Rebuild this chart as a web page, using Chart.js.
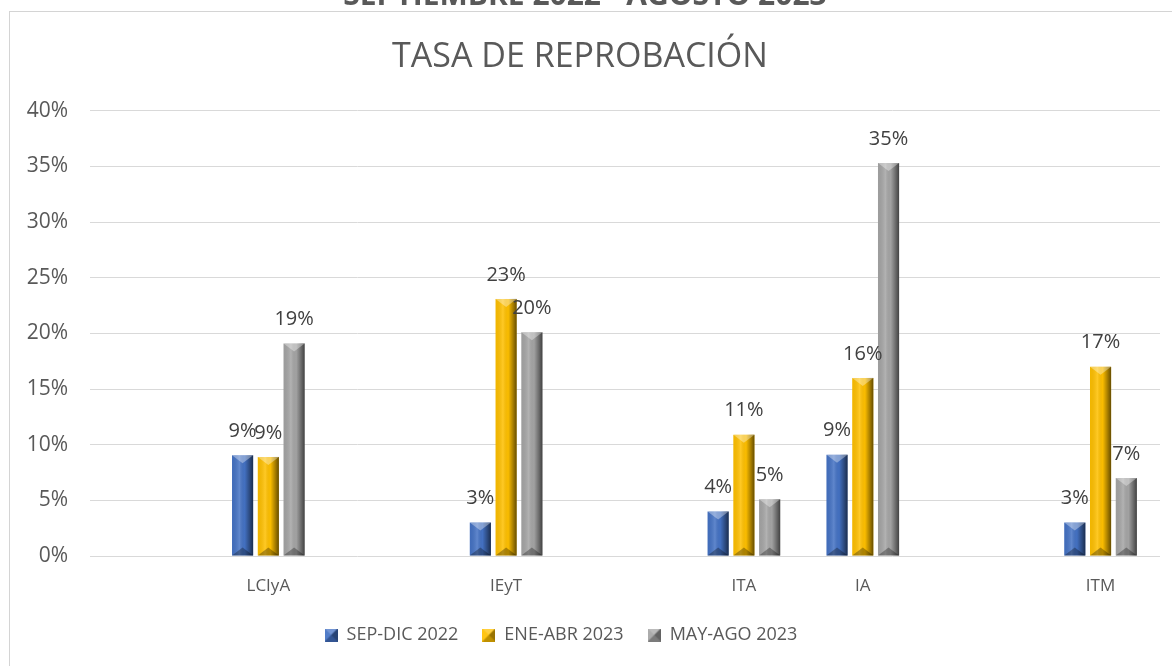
<!DOCTYPE html>
<html>
<head>
<meta charset="utf-8">
<script src="https://cdn.jsdelivr.net/npm/chart.js@4.4.0/dist/chart.umd.min.js"></script>
<style>
  html, body { margin: 0; padding: 0; background: #fff; overflow: hidden; }
  #frame { position: absolute; left: 9px; top: 11px; width: 1200px; height: 700px; border: 1px solid #d4d4d4; }
  #wrap { position: absolute; left: 0; top: 0; width: 1172px; height: 666px; }
</style>
</head>
<body>
<div id="frame"></div>
<div id="wrap"><canvas id="chart"></canvas></div>
<script>
// empty slots keep the uneven spacing of the original
const categories = ['', 'LCIyA', '', 'IEyT', '', 'ITA', 'IA', '', 'ITM'];
const seriesNames = ['SEP-DIC 2022', 'ENE-ABR 2023', 'MAY-AGO 2023'];
const sepDic2022 = [null, 0.0905, null, 0.03, null, 0.04, 0.091, null, 0.03];
const eneAbr2023 = [null, 0.089, null, 0.231, null, 0.109, 0.16, null, 0.17];
const mayAgo2023 = [null, 0.191, null, 0.201, null, 0.051, 0.353, null, 0.07];
const yTicks = [0, 0.05, 0.10, 0.15, 0.20, 0.25, 0.30, 0.35, 0.40];
const colors = ['#4472C4', '#FFC000', '#A5A5A5'];

const FONT = "'Open Sans', 'Liberation Sans', sans-serif";
const GREY = '#595959';

// little bevelled squares for the legend
const makeMarker = color => {
  const c = document.createElement('canvas');
  c.width = 13; c.height = 13;
  const g = c.getContext('2d');
  g.fillStyle = color;
  g.fillRect(0, 0, 13, 13);
  const tri = (pts, fill) => {
    g.beginPath();
    g.moveTo(pts[0][0], pts[0][1]);
    pts.slice(1).forEach(p => g.lineTo(p[0], p[1]));
    g.closePath();
    g.fillStyle = fill;
    g.fill();
  };
  tri([[0, 0], [13, 0], [6.5, 6.5]], 'rgba(255,255,255,0.25)');
  tri([[13, 0], [13, 13], [6.5, 6.5]], 'rgba(0,0,0,0.4)');
  tri([[0, 13], [13, 13], [6.5, 6.5]], 'rgba(0,0,0,0.25)');
  tri([[0, 0], [0, 13], [6.5, 6.5]], 'rgba(255,255,255,0.08)');
  return c;
};
const markers = colors.map(makeMarker);

// bevel look on each bar, drawn over the flat fill
const bevelBars = {
  id: 'bevelBars',
  afterDatasetDraw(chart, args) {
    const ctx = chart.ctx;
    const values = chart.data.datasets[args.index].data;
    args.meta.data.forEach((bar, j) => {
      if (values[j] == null) return;
      const { x, y, base, width } = bar.getProps(['x', 'y', 'base', 'width'], true);
      const x0 = x - width / 2, x1 = x + width / 2;
      const top = Math.min(y, base), bottom = Math.max(y, base);
      const d = Math.min(8, (bottom - top) / 2);
      ctx.save();
      const grad = ctx.createLinearGradient(x0, 0, x1, 0);
      grad.addColorStop(0, 'rgba(0,0,0,0.05)');
      grad.addColorStop(0.35, 'rgba(255,255,255,0.15)');
      grad.addColorStop(0.6, 'rgba(0,0,0,0.02)');
      grad.addColorStop(0.8, 'rgba(0,0,0,0.3)');
      grad.addColorStop(1, 'rgba(0,0,0,0.6)');
      ctx.fillStyle = grad;
      ctx.fillRect(x0, top, width, bottom - top);
      ctx.beginPath();
      ctx.moveTo(x0, top); ctx.lineTo(x1, top); ctx.lineTo(x, top + d); ctx.closePath();
      ctx.fillStyle = 'rgba(255,255,255,0.35)';
      ctx.fill();
      ctx.beginPath();
      ctx.moveTo(x0, bottom); ctx.lineTo(x1, bottom); ctx.lineTo(x, bottom - d); ctx.closePath();
      ctx.fillStyle = 'rgba(0,0,0,0.3)';
      ctx.fill();
      ctx.restore();
    });
  }
};

// value labels above bars
const valueLabels = {
  id: 'valueLabels',
  afterDatasetsDraw(chart) {
    const ctx = chart.ctx;
    ctx.save();
    ctx.font = '20px ' + FONT;
    ctx.fillStyle = '#404040';
    ctx.textAlign = 'center';
    ctx.textBaseline = 'middle';
    chart.data.datasets.forEach((ds, i) => {
      chart.getDatasetMeta(i).data.forEach((bar, j) => {
        const v = ds.data[j];
        if (v == null) return;
        ctx.fillText(Math.round(v * 100) + '%', bar.x, bar.y - 24);
      });
    });
    ctx.restore();
  }
};

// the page title sits above the frame and is cut off by the window
const outerTitle = {
  id: 'outerTitle',
  beforeDraw(chart) {
    const ctx = chart.ctx;
    ctx.save();
    ctx.font = 'bold 30px ' + FONT;
    ctx.fillStyle = GREY;
    ctx.textAlign = 'center';
    ctx.textBaseline = 'alphabetic';
    ctx.fillText('SEPTIEMBRE 2022 - AGOSTO 2023', 585, 5);
    ctx.restore();
  }
};

// legend in the original sits a little left of centre
const legendShift = {
  id: 'legendShift',
  afterLayout(chart) {
    const lg = chart.legend;
    if (!lg) return;
    lg.left -= 19;
    lg.right -= 19;
  }
};

const seriesData = [sepDic2022, eneAbr2023, mayAgo2023];

new Chart(document.getElementById('chart'), {
  type: 'bar',
  data: {
    labels: categories,
    datasets: seriesNames.map((name, i) => ({
      label: name,
      data: seriesData[i],
      backgroundColor: colors[i],
      borderWidth: 0,
      categoryPercentage: 0.65,
      barPercentage: 0.82
    }))
  },
  options: {
    responsive: true,
    maintainAspectRatio: false,
    animation: false,
    layout: { padding: { left: 0, right: 12, top: 0, bottom: 12 } },
    plugins: {
      tooltip: { enabled: false },
      title: {
        display: true,
        text: 'TASA DE REPROBACIÓN',
        color: GREY,
        font: { family: FONT, size: 34, weight: 'normal' },
        padding: { top: 37, bottom: 33 }
      },
      legend: {
        position: 'bottom',
        labels: {
          color: GREY,
          font: { family: FONT, size: 18 },
          usePointStyle: true,
          boxWidth: 13,
          boxHeight: 13,
          padding: 24,
          generateLabels: chart =>
            Chart.defaults.plugins.legend.labels.generateLabels(chart).map((l, i) => ({ ...l, pointStyle: markers[i] }))
        }
      }
    },
    scales: {
      x: {
        grid: { display: false },
        border: { display: false },
        ticks: { color: GREY, font: { family: FONT, size: 17 }, padding: 12 },
        afterFit: s => { s.height = 46; }
      },
      y: {
        min: 0,
        max: 0.4,
        afterBuildTicks: s => { s.ticks = yTicks.map(v => ({ value: v })); },
        afterFit: s => { s.width = 90; },
        grid: { color: '#d9d9d9', lineWidth: 1, drawTicks: false },
        border: { display: false },
        ticks: {
          color: GREY,
          font: { family: FONT, size: 21 },
          padding: 22,
          callback: v => Math.round(v * 100) + '%'
        }
      }
    }
  },
  plugins: [outerTitle, bevelBars, valueLabels, legendShift]
});
</script>
</body>
</html>
